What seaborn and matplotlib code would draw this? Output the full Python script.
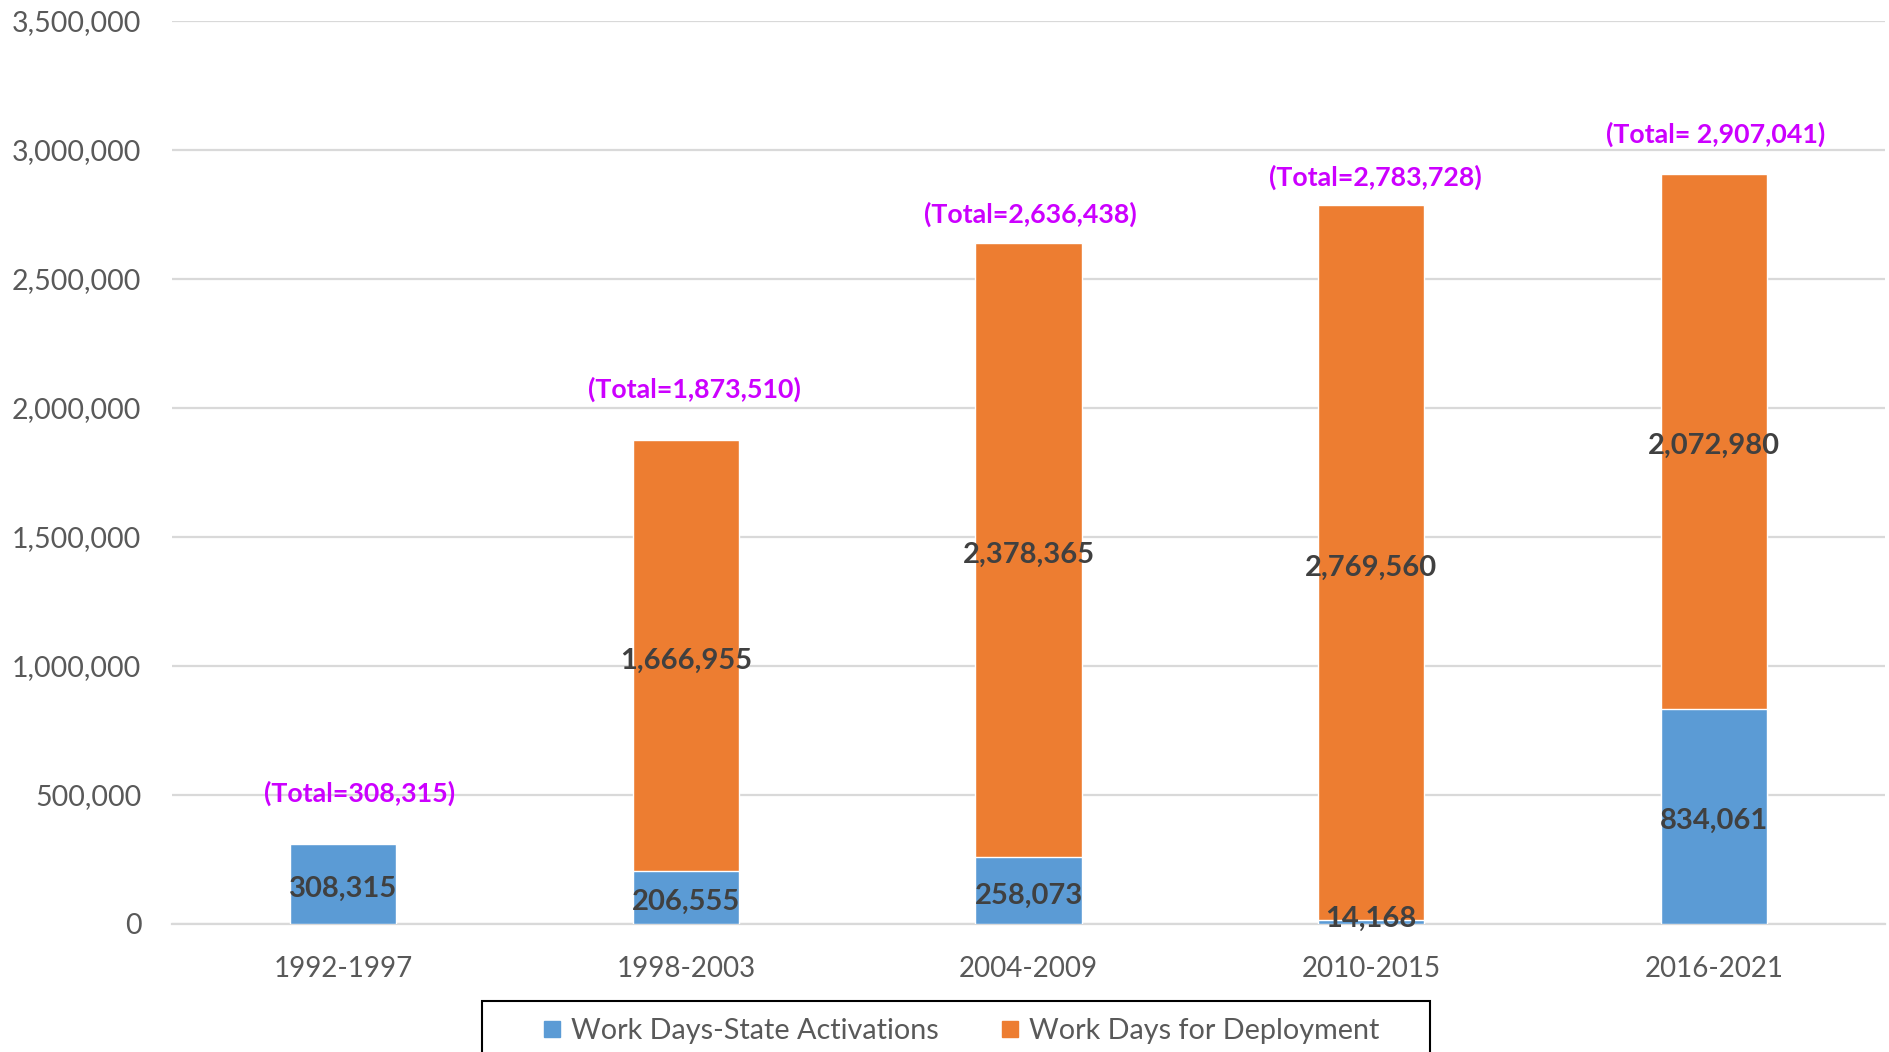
import matplotlib
matplotlib.use("Agg")
import matplotlib.pyplot as plt
import seaborn as sns
import pandas as pd
from matplotlib.lines import Line2D
from matplotlib.patches import Rectangle

# Data
periods = ["1992-1997", "1998-2003", "2004-2009", "2010-2015", "2016-2021"]
state_days = [308315, 206555, 258073, 14168, 834061]
deploy_days = [0, 1666955, 2378365, 2769560, 2072980]
total_labels = ["(Total=308,315)", "(Total=1,873,510)", "(Total=2,636,438)",
                "(Total=2,783,728)", "(Total= 2,907,041)"]

# nudges (points) for the total labels, as placed by hand in the original
nudge_x = [12, 6, 1, 3, 1]
nudge_y = [37, 37, 21, 20, 28]

blue = "#5B9BD5"
orange = "#ED7D31"
magenta = "#CC00FF"
grid_c = "#D9D9D9"
tick_c = "#595959"
label_c = "#404040"

sns.set_theme(style="white")
plt.rcParams["font.family"] = ["Lato", "DejaVu Sans"]

d = pd.DataFrame({"period": periods, "state": state_days, "deploy": deploy_days})
d["total"] = d["state"] + d["deploy"]

fig = plt.figure(figsize=(18.89, 10.52), dpi=100)
ax = fig.add_axes([0.091, 0.1217, 0.907, 0.8588])

# stacked bars: total in orange, state part drawn over it in blue
sns.barplot(data=d, x="period", y="total", color=orange, width=0.31,
            saturation=1, ax=ax, zorder=2)
sns.barplot(data=d, x="period", y="state", color=blue, width=0.31,
            saturation=1, ax=ax, zorder=3)

ax.set_xlim(-0.5, 4.5)
ax.set_ylim(0, 3500000)
ax.set_yticks(range(0, 3500001, 500000))
ax.yaxis.set_major_formatter(matplotlib.ticker.FuncFormatter(lambda v, p: f"{int(v):,}"))
ax.grid(axis="y", color=grid_c, lw=1.6, zorder=0)
ax.set_axisbelow(True)
for s in ["top", "right", "left"]:
    ax.spines[s].set_visible(False)
ax.spines["bottom"].set_color(grid_c)
ax.spines["bottom"].set_linewidth(1.6)
ax.tick_params(axis="y", length=0, pad=22, labelsize=20.5, labelcolor=tick_c)
ax.tick_params(axis="x", length=0, pad=23, labelsize=20, labelcolor=tick_c)
ax.set_xlabel("")
ax.set_ylabel("")

# segment value labels
for i, row in d.iterrows():
    ax.annotate(f"{row['state']:,}", (i, max(row["state"] / 2, 40000)),
                xytext=(0, -3.5), textcoords="offset points", ha="center",
                va="center", fontsize=21, fontweight="bold", color=label_c, zorder=5)
    if row["deploy"] > 0:
        ax.annotate(f"{row['deploy']:,}", (i, row["state"] + row["deploy"] / 2),
                    xytext=(0, -3.5), textcoords="offset points",
                    ha="center", va="center", fontsize=21, fontweight="bold",
                    color=label_c, zorder=5)
    ax.annotate(total_labels[i], (i, row["total"]),
                xytext=(nudge_x[i], nudge_y[i]), textcoords="offset points",
                ha="center", va="center", fontsize=19.3, fontweight="bold",
                color=magenta, zorder=5)

handles = [Line2D([], [], marker="s", ls="", color=blue, markersize=12),
           Line2D([], [], marker="s", ls="", color=orange, markersize=12)]
leg = fig.legend(handles, ["Work Days-State Activations", "Work Days for Deployment"],
                 loc="center", bbox_to_anchor=(0.509, 0.020), ncol=2,
                 fontsize=20.7, frameon=False, handlelength=0.6,
                 handletextpad=0.35, columnspacing=2.2, borderpad=0)
for t in leg.get_texts():
    t.set_color(tick_c)

# legend box as drawn in the original (runs off the bottom edge)
fig.patches.append(Rectangle((0.2552, -0.02), 0.5018, 0.0685,
                             transform=fig.transFigure, fill=False,
                             edgecolor="black", lw=1.5))

fig.savefig("out.png", dpi=100)
